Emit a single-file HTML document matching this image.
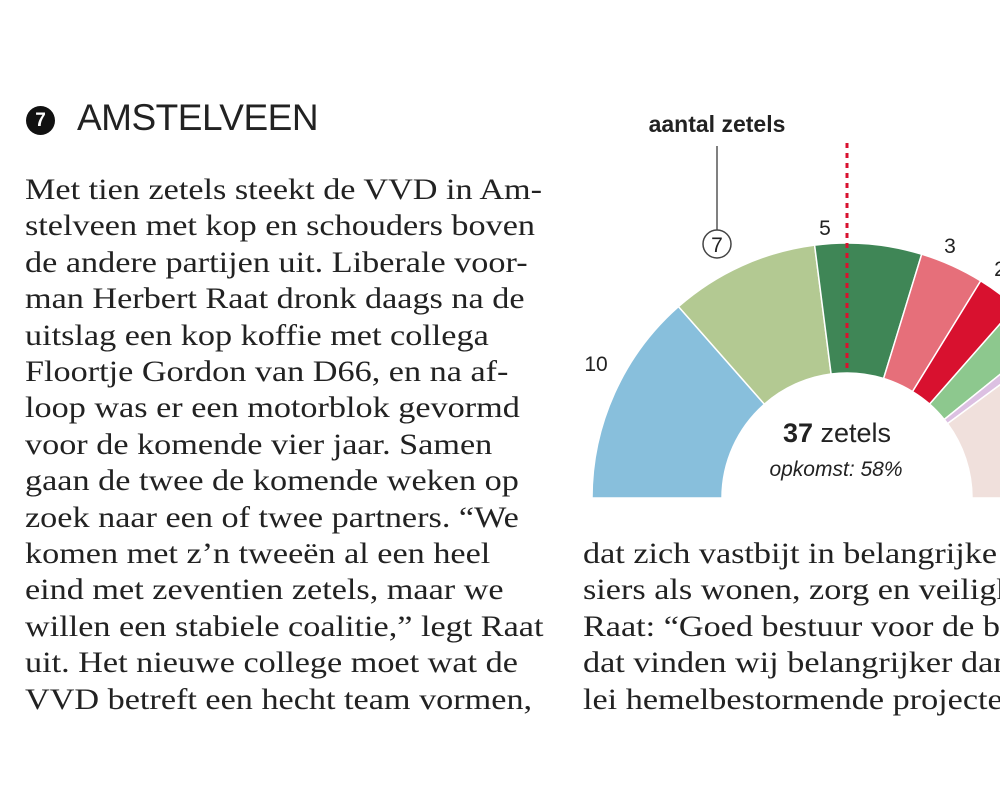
<!DOCTYPE html>
<html><head><meta charset="utf-8"><style>
body{margin:0;width:1000px;height:806px;background:#fff;overflow:hidden;position:relative;font-family:"Liberation Serif",serif;color:#222}
.t{position:absolute;left:25px;font-size:30px;white-space:nowrap;line-height:36.4px;transform:scaleX(1.14);transform-origin:0 0}
.clip{position:absolute;left:0;top:0;width:1000px;height:806px;overflow:hidden}
.r{position:absolute;left:583px;font-size:30px;white-space:nowrap;line-height:36.4px;transform:scaleX(1.14);transform-origin:0 0}
</style></head><body>
<div style="position:absolute;left:26px;top:106px;width:29px;height:29px;border-radius:50%;background:#111;color:#fff;font:bold 19px 'Liberation Sans',sans-serif;text-align:center;line-height:29px">7</div>
<div style="position:absolute;left:77px;top:97px;font:37px 'Liberation Sans',sans-serif;color:#222;letter-spacing:-0.5px">AMSTELVEEN</div>
<div class="t" style="top:172px">Met tien zetels steekt de VVD in Am-<br>stelveen met kop en schouders boven<br>de andere partijen uit. Liberale voor-<br>man Herbert Raat dronk daags na de<br>uitslag een kop koffie met collega<br>Floortje Gordon van D66, en na af-<br>loop was er een motorblok gevormd<br>voor de komende vier jaar. Samen<br>gaan de twee de komende weken op<br>zoek naar een of twee partners. “We<br>komen met z’n tweeën al een heel<br>eind met zeventien zetels, maar we<br>willen een stabiele coalitie,” legt Raat<br>uit. Het nieuwe college moet wat de<br>VVD betreft een hecht team vormen,</div>
<div class="clip"><div class="r" style="top:536px">dat zich vastbijt in belangrijke dos-<br>siers als wonen, zorg en veiligheid.<br>Raat: “Goed bestuur voor de burger,<br>dat vinden wij belangrijker dan aller-<br>lei hemelbestormende projecten.”</div></div>
<svg width="1000" height="806" style="position:absolute;left:0;top:0">
<g stroke="#fff" stroke-width="1.5">
<path d="M592,498 A255,255 0 0 1 678.5,306.6 L764.4,404.2 A125,125 0 0 0 722,498 Z" fill="#88bfdc"/>
<path d="M678.5,306.6 A255,255 0 0 1 814.6,245.1 L831.1,374 A125,125 0 0 0 764.4,404.2 Z" fill="#b3c992"/>
<path d="M814.6,245.1 A255,255 0 0 1 921.7,254.2 L883.6,378.5 A125,125 0 0 0 831.1,374 Z" fill="#3f8656"/>
<path d="M921.7,254.2 A255,255 0 0 1 980.7,280.9 L912.5,391.6 A125,125 0 0 0 883.6,378.5 Z" fill="#e66f7a"/>
<path d="M980.7,280.9 A255,255 0 0 1 1015.4,306.5 L929.6,404.1 A125,125 0 0 0 912.5,391.6 Z" fill="#d8112f"/>
<path d="M1015.4,306.5 A255,255 0 0 1 1045.4,337.8 L944.2,419.5 A125,125 0 0 0 929.6,404.1 Z" fill="#8dc88e"/>
<path d="M1045.4,337.8 A255,255 0 0 1 1052,346.3 L947.5,423.6 A125,125 0 0 0 944.2,419.5 Z" fill="#dcc0e2"/>
<path d="M1052,346.3 A255,255 0 0 1 1102,498 L972,498 A125,125 0 0 0 947.5,423.6 Z" fill="#f0e0dc"/>
</g>
<line x1="847" y1="143" x2="847" y2="368" stroke="#d8112f" stroke-width="3" stroke-dasharray="5,5"/>
<line x1="717" y1="146" x2="717" y2="230" stroke="#555" stroke-width="1.5"/>
<circle cx="717" cy="244" r="14" fill="#fff" stroke="#444" stroke-width="1.5"/>
<g font-family="Liberation Sans, sans-serif" fill="#222">
<text x="717" y="132" font-size="23" font-weight="bold" text-anchor="middle">aantal zetels</text>
<text x="717" y="252" font-size="21" text-anchor="middle">7</text>
<text x="825" y="235" font-size="21" text-anchor="middle">5</text>
<text x="950" y="253" font-size="21" text-anchor="middle">3</text>
<text x="1000" y="276" font-size="21" text-anchor="middle">2</text>
<text x="596" y="371" font-size="21" text-anchor="middle">10</text>
<text x="837" y="442" font-size="27" text-anchor="middle"><tspan font-weight="bold">37</tspan> zetels</text>
<text x="836" y="476" font-size="21" font-style="italic" text-anchor="middle">opkomst: 58%</text>
</g>
</svg>
</body></html>
